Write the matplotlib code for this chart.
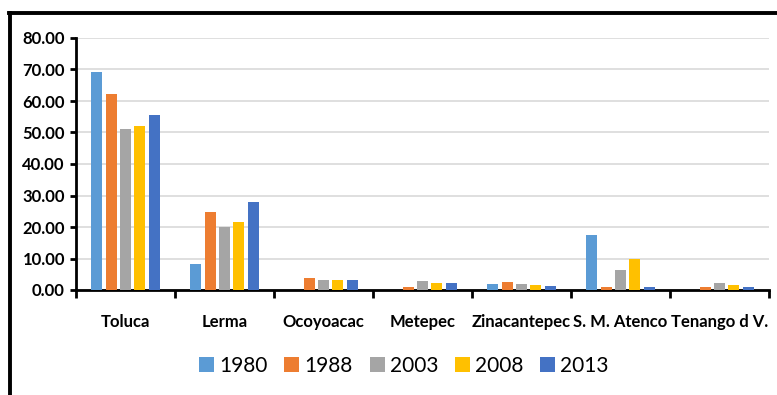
import matplotlib
matplotlib.use("Agg")
import matplotlib.pyplot as plt
import numpy as np
from matplotlib.lines import Line2D

categories = ["Toluca", "Lerma", "Ocoyoacac", "Metepec", "Zinacantepec", "S. M. Atenco", "Tenango d V."]
years = ["1980", "1988", "2003", "2008", "2013"]
v1980 = [69.1, 8.2, 0.0, 0.0, 2.0, 17.5, 0.0]
v1988 = [62.3, 24.8, 3.7, 1.0, 2.6, 1.0, 1.0]
v2003 = [51.2, 19.9, 3.3, 3.0, 2.0, 6.3, 2.3]
v2008 = [52.0, 21.7, 3.3, 2.3, 1.6, 9.8, 1.6]
v2013 = [55.7, 28.0, 3.3, 2.3, 1.3, 1.0, 1.0]
series = [v1980, v1988, v2003, v2008, v2013]
colors = ["#5B9BD5", "#ED7D31", "#A5A5A5", "#FFC000", "#4472C4"]
yticks = [0, 10, 20, 30, 40, 50, 60, 70, 80]

plt.rcParams['font.family'] = ['Lato', 'DejaVu Sans']

W, H = 777, 395
fig = plt.figure(figsize=(W/100, H/100), dpi=100)
ax = fig.add_axes([76/W, (H-290)/H, (769-76)/W, (290-38)/H])

x = np.arange(len(categories))
step = 0.146
width = 0.111
for i, (vals, c, yr) in enumerate(zip(series, colors, years)):
    ax.bar(x + (i - 2) * step, vals, width=width, color=c, label=yr, zorder=3)

ax.set_xlim(-0.5, len(categories) - 0.5)
ax.set_ylim(0, 80)
ax.set_yticks(yticks)
ax.set_yticklabels([f"{v:.2f}" for v in yticks], fontsize=12, fontweight='bold')
ax.yaxis.grid(True, color="#D9D9D9", linewidth=1.2, zorder=0)
ax.set_axisbelow(True)

ax.set_xticks(np.arange(-0.5, len(categories)), minor=False)
ax.set_xticklabels([])
ax.set_xticks(x, minor=True)
ax.set_xticklabels(categories, minor=True, fontsize=12, fontweight='bold')
ax.tick_params(axis='x', which='major', length=6, width=2, direction='out')
ax.tick_params(axis='x', which='minor', length=0, pad=17)
ax.tick_params(axis='y', length=4, width=2, direction='out', pad=4)

for s in ['top', 'right']:
    ax.spines[s].set_visible(False)
for s in ['left', 'bottom']:
    ax.spines[s].set_linewidth(2)
    ax.spines[s].set_color('black')

handles, labels = ax.get_legend_handles_labels()
fig.legend(handles, labels, loc='center', bbox_to_anchor=(404/W, (H-366)/H), ncol=5,
           frameon=False, fontsize=15, handlelength=0.72, handleheight=0.72,
           handletextpad=0.25, columnspacing=0.8)

# outer frame (left and top edges visible)
fig.add_artist(Line2D([10/W, 10/W], [0, (H-13)/H], color='black', linewidth=2.8, transform=fig.transFigure))
fig.add_artist(Line2D([9/W, 1.0], [(H-13)/H, (H-13)/H], color='black', linewidth=2.8, transform=fig.transFigure))

fig.savefig("out.png", dpi=100)
